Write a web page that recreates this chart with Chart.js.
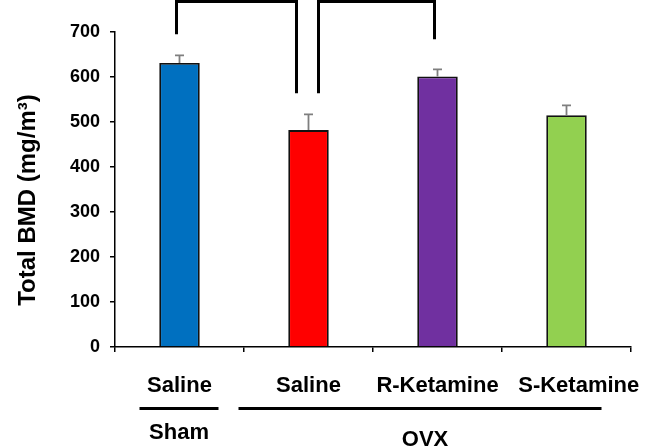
<!DOCTYPE html>
<html>
<head>
<meta charset="utf-8">
<script src="https://cdn.jsdelivr.net/npm/chart.js@4"></script>
<style>
  html, body { margin: 0; padding: 0; background: #fff; }
  #wrap { width: 646px; height: 448px; }
</style>
</head>
<body>
<div id="wrap"><canvas id="bmdChart"></canvas></div>
<script>
const groups = ['Saline', 'Saline', 'R-Ketamine', 'S-Ketamine'];
const bmd = [631, 482, 601, 515];
const sem = [17, 35, 16, 22];
const barColors = ['#0070C0', '#FF0000', '#7030A0', '#92D050'];
const yTicks = [0, 100, 200, 300, 400, 500, 600, 700];
const yTitle = 'Total BMD (mg/m³)';
// significance brackets: from bar, to bar, leg bottom values
const brackets = [[0, 1, 695, 564], [1, 2, 564, 684]];
const treatments = ['Sham', 'OVX'];
const treatmentBars = [[0, 0], [1, 3]];

const FONT = 'Arial, "Liberation Sans", sans-serif';

// error bars (upper only, grey)
const errorBars = {
  id: 'errorBars',
  afterDatasetsDraw(chart) {
    const ctx = chart.ctx;
    const y = chart.scales.y;
    const meta = chart.getDatasetMeta(0);
    ctx.save();
    ctx.strokeStyle = '#7f7f7f';
    ctx.lineWidth = 1.8;
    meta.data.forEach((bar, i) => {
      const top = y.getPixelForValue(bmd[i] + sem[i]);
      ctx.beginPath();
      ctx.moveTo(bar.x, bar.y);
      ctx.lineTo(bar.x, top);
      ctx.moveTo(bar.x - 4.5, top);
      ctx.lineTo(bar.x + 4.5, top);
      ctx.stroke();
    });
    ctx.restore();
  }
};

// brackets above bars, y title, treatment group labels below
const annotations = {
  id: 'annotations',
  afterDraw(chart) {
    const ctx = chart.ctx;
    const x = chart.scales.x;
    const y = chart.scales.y;
    ctx.save();
    ctx.strokeStyle = '#000';
    ctx.lineWidth = 3;
    const topY = 1.5;
    brackets.forEach((b, k) => {
      let x1 = x.getPixelForValue(b[0]) - 3;
      let x2 = x.getPixelForValue(b[1]) - 3;
      if (k === 0) x2 = x.getPixelForValue(b[1]) - 12;
      if (k === 1) x1 = x.getPixelForValue(b[0]) + 10;
      ctx.beginPath();
      ctx.moveTo(x1, y.getPixelForValue(b[2]));
      ctx.lineTo(x1, topY);
      ctx.lineTo(x2, topY);
      ctx.lineTo(x2, y.getPixelForValue(b[3]));
      ctx.stroke();
    });

    ctx.fillStyle = '#000';
    ctx.textAlign = 'center';
    ctx.textBaseline = 'middle';

    // y axis title
    ctx.save();
    ctx.translate(28, 200);
    ctx.rotate(-Math.PI / 2);
    ctx.font = 'bold 24px ' + FONT;
    ctx.fillText(yTitle, 0, 0);
    ctx.restore();

    const padL = [40, 70];
    const padR = [39, 35];
    const textY = [433, 440];
    const textShift = [0, 5];
    ctx.lineWidth = 3;
    ctx.font = 'bold 22px ' + FONT;
    treatments.forEach((t, k) => {
      const a = x.getPixelForValue(treatmentBars[k][0]) - padL[k];
      const c = x.getPixelForValue(treatmentBars[k][1]) + padR[k];
      ctx.beginPath();
      ctx.moveTo(a, 408.5);
      ctx.lineTo(c, 408.5);
      ctx.stroke();
      ctx.fillText(t, (a + c) / 2 + textShift[k], textY[k]);
    });
    ctx.restore();
  }
};

new Chart(document.getElementById('bmdChart'), {
  type: 'bar',
  data: {
    labels: groups,
    datasets: [{
      data: bmd,
      backgroundColor: barColors,
      borderColor: '#111',
      borderWidth: 1.8,
      borderSkipped: 'bottom',
      categoryPercentage: 1,
      barPercentage: 0.314
    }]
  },
  options: {
    responsive: true,
    maintainAspectRatio: false,
    animation: false,
    events: [],
    layout: { padding: { top: 32, right: 15, left: 0, bottom: 0 } },
    plugins: { legend: { display: false }, tooltip: { enabled: false } },
    scales: {
      x: {
        afterFit(scale) {
          scale.height = 101;
          scale.paddingLeft = 0;
          scale.paddingRight = 0;
        },
        grid: { display: true, drawOnChartArea: false, tickLength: 5, color: '#000', lineWidth: 1.5, offset: true },
        border: { display: true, color: '#000', width: 1.5 },
        ticks: {
          color: '#000', padding: 21, autoSkip: false, minRotation: 0, maxRotation: 0,
          // the last label sits a little right of its bar in the original
          callback: (v, i) => (i === groups.length - 1 ? '    ' : '') + groups[i],
          font: { family: FONT, size: 22, weight: 'bold' }
        }
      },
      y: {
        min: 0,
        max: 700,
        afterFit(scale) { scale.width = 115; },
        afterBuildTicks(scale) { scale.ticks = yTicks.map(v => ({ value: v })); },
        grid: { display: true, drawOnChartArea: false, tickLength: 5, color: '#000', lineWidth: 1.5 },
        border: { display: true, color: '#000', width: 1.5 },
        ticks: { color: '#000', padding: 10, font: { family: FONT, size: 18, weight: 'bold' } }
      }
    }
  },
  plugins: [errorBars, annotations]
});
</script>
</body>
</html>
